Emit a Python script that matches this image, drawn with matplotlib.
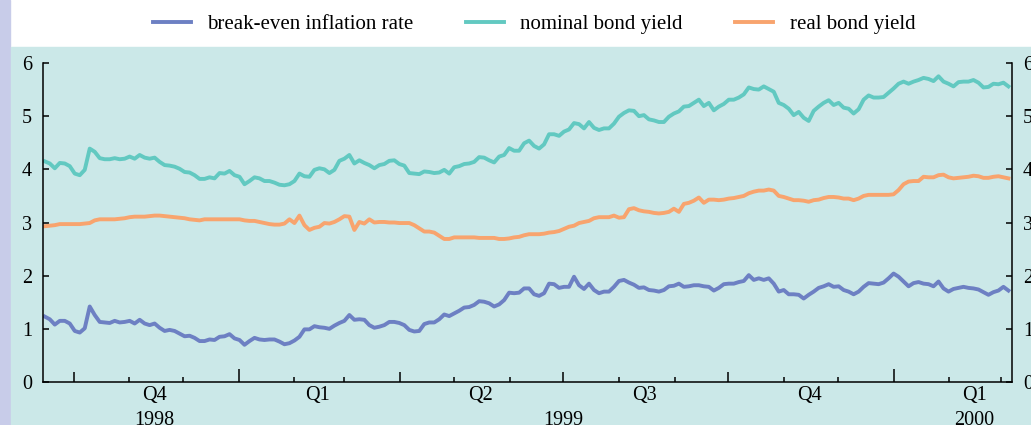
import matplotlib.pyplot as plt
import matplotlib.dates as mdates
from matplotlib.patches import Rectangle
import pandas as pd

plt.rcParams['font.family'] = ['Liberation Serif', 'DejaVu Serif']

# series, every 2.8 days from mid Sep 1998 to early Mar 2000
start, end = '1998-09-15', '2000-03-05'

nominal = [4.15, 4.11, 4.02, 4.12, 4.11, 4.06, 3.92, 3.89, 3.99, 4.39, 4.33, 4.21, 4.19, 4.19, 4.21, 4.19, 4.20,
           4.24, 4.20, 4.27, 4.22, 4.20, 4.22, 4.14, 4.08, 4.07, 4.05, 4.01, 3.95, 3.94, 3.89, 3.82, 3.82, 3.85,
           3.83, 3.93, 3.92, 3.97, 3.89, 3.86, 3.72, 3.78, 3.85, 3.83, 3.78, 3.78, 3.75, 3.71, 3.70, 3.72, 3.78,
           3.92, 3.87, 3.86, 3.99, 4.02, 4.00, 3.93, 3.99, 4.16, 4.20, 4.27, 4.11, 4.17, 4.12, 4.08,
           4.02, 4.08, 4.10, 4.16, 4.17, 4.10, 4.07, 3.93, 3.92, 3.91, 3.96, 3.95, 3.93, 3.94, 3.99, 3.92, 4.04,
           4.06, 4.10, 4.11, 4.14, 4.23, 4.22, 4.17, 4.13, 4.24, 4.27, 4.40, 4.35, 4.35, 4.49, 4.54,
           4.44, 4.39, 4.47, 4.66, 4.66, 4.63, 4.71, 4.75, 4.87, 4.85, 4.77, 4.89, 4.78, 4.74, 4.77, 4.77, 4.86,
           4.99, 5.06, 5.11, 5.10, 5.00, 5.02, 4.94, 4.92, 4.89, 4.89, 4.99, 5.05, 5.09, 5.18, 5.19,
           5.25, 5.31, 5.19, 5.25, 5.11, 5.18, 5.23, 5.31, 5.31, 5.35, 5.41, 5.54, 5.51, 5.50, 5.56, 5.51, 5.46,
           5.25, 5.21, 5.14, 5.02, 5.08, 4.97, 4.91, 5.10, 5.18, 5.25, 5.30, 5.21, 5.25, 5.16, 5.14,
           5.05, 5.13, 5.31, 5.39, 5.35, 5.35, 5.36, 5.44, 5.52, 5.61, 5.65, 5.61, 5.65, 5.68, 5.72, 5.70, 5.66,
           5.75, 5.65, 5.61, 5.56, 5.64, 5.65, 5.65, 5.68, 5.63, 5.54, 5.55, 5.61, 5.60, 5.63, 5.56]

real = [2.93, 2.94, 2.95, 2.97, 2.97, 2.97, 2.97, 2.97, 2.98, 2.99, 3.04, 3.06, 3.06, 3.06, 3.06, 3.07, 3.08,
        3.10, 3.11, 3.11, 3.11, 3.12, 3.13, 3.13, 3.12, 3.11, 3.10, 3.09, 3.08, 3.06, 3.05, 3.04, 3.06, 3.06,
        3.06, 3.06, 3.06, 3.06, 3.06, 3.06, 3.04, 3.03, 3.03, 3.01, 2.99, 2.97, 2.96, 2.96, 2.98, 3.06, 2.99,
        3.13, 2.95, 2.86, 2.90, 2.92, 2.99, 2.98, 3.01, 3.06, 3.12, 3.11, 2.86, 3.01, 2.98, 3.06,
        3.00, 3.01, 3.01, 3.00, 3.00, 2.99, 2.99, 2.99, 2.95, 2.89, 2.83, 2.83, 2.81, 2.75, 2.69, 2.69, 2.72,
        2.72, 2.72, 2.72, 2.72, 2.71, 2.71, 2.71, 2.71, 2.69, 2.69, 2.70, 2.72, 2.73, 2.76, 2.78,
        2.78, 2.78, 2.79, 2.81, 2.82, 2.84, 2.88, 2.92, 2.94, 2.99, 3.01, 3.03, 3.08, 3.10, 3.10, 3.10, 3.13,
        3.09, 3.10, 3.25, 3.27, 3.23, 3.21, 3.20, 3.18, 3.17, 3.18, 3.20, 3.26, 3.20, 3.35, 3.37,
        3.41, 3.47, 3.37, 3.43, 3.43, 3.42, 3.43, 3.45, 3.46, 3.48, 3.50, 3.55, 3.58, 3.60, 3.60, 3.62, 3.60,
        3.50, 3.48, 3.45, 3.42, 3.42, 3.41, 3.39, 3.42, 3.43, 3.46, 3.48, 3.48, 3.47, 3.45, 3.45,
        3.42, 3.45, 3.50, 3.52, 3.52, 3.52, 3.52, 3.52, 3.53, 3.61, 3.72, 3.77, 3.78, 3.78, 3.86, 3.85, 3.85,
        3.89, 3.90, 3.85, 3.83, 3.84, 3.85, 3.86, 3.88, 3.87, 3.84, 3.84, 3.86, 3.87, 3.85, 3.83]

breakeven = [1.23, 1.18, 1.08, 1.15, 1.15, 1.10, 0.96, 0.93, 1.01, 1.42, 1.26, 1.13, 1.12, 1.11, 1.15, 1.12,
             1.13, 1.15, 1.10, 1.17, 1.10, 1.07, 1.10, 1.02, 0.96, 0.98, 0.96, 0.91, 0.86, 0.87, 0.83, 0.77,
             0.77, 0.80,
             0.79, 0.85, 0.86, 0.90, 0.82, 0.79, 0.70, 0.77, 0.83, 0.80, 0.79, 0.80, 0.80, 0.76, 0.71, 0.73,
             0.78, 0.85, 0.99, 0.99, 1.05, 1.03, 1.02, 1.00, 1.06, 1.11, 1.15, 1.26, 1.17, 1.18, 1.17, 1.07,
             1.02, 1.04, 1.07, 1.13, 1.13, 1.11, 1.07, 0.98, 0.95, 0.96, 1.09, 1.12, 1.12, 1.18, 1.27, 1.24,
             1.29, 1.34, 1.40, 1.41, 1.45, 1.52, 1.51, 1.48, 1.42, 1.46, 1.54, 1.68, 1.67, 1.68, 1.76, 1.76,
             1.65, 1.62, 1.67, 1.85, 1.84, 1.77, 1.79, 1.79, 1.98, 1.82, 1.75, 1.85, 1.73, 1.67, 1.70, 1.70,
             1.79, 1.90, 1.92, 1.87, 1.83, 1.77, 1.78, 1.73, 1.72, 1.70, 1.73, 1.80, 1.81, 1.85, 1.79, 1.80,
             1.82, 1.82, 1.80, 1.79, 1.72, 1.77, 1.84, 1.85, 1.85, 1.88, 1.90, 2.01, 1.92, 1.95, 1.92, 1.95,
             1.85, 1.70, 1.73, 1.65, 1.65, 1.64, 1.57, 1.64, 1.70, 1.77, 1.80, 1.84, 1.79, 1.80, 1.73, 1.70,
             1.65, 1.70, 1.79, 1.86, 1.85, 1.84, 1.87, 1.95, 2.04, 1.98, 1.89, 1.80, 1.86, 1.88, 1.85, 1.84,
             1.80, 1.89, 1.76, 1.70, 1.75, 1.77, 1.79, 1.77, 1.76, 1.74, 1.69, 1.64, 1.69, 1.72, 1.79, 1.72]

quarters = ['Q4', 'Q1', 'Q2', 'Q3', 'Q4', 'Q1']
quarter_mid = ['1998-11-15', '1999-02-14', '1999-05-16', '1999-08-15', '1999-11-15', '2000-02-15']
years = ['1998', '1999', '2000']
year_mid = ['1998-11-15', '1999-07-01', '2000-02-15']

dates = pd.date_range(start, end, periods=len(nominal))

fig = plt.figure(figsize=(10.31, 4.25), dpi=100)
fig.patches.append(Rectangle((0, 0), 10 / 1031, 1, transform=fig.transFigure,
                             color='#c8cce9', zorder=-2))
fig.patches.append(Rectangle((11 / 1031, 0), 1, 1 - 47 / 425, transform=fig.transFigure,
                             color='#cbe8e8', zorder=-2))

ax = fig.add_axes([43 / 1031, 1 - 382 / 425, (1012 - 43) / 1031, (382 - 63) / 425])
ax.set_facecolor('none')

ax.plot(dates, breakeven, color='#6d80c3', lw=2.8, label='break-even inflation rate')
ax.plot(dates, nominal, color='#62c9c1', lw=2.8, label='nominal bond yield')
ax.plot(dates, real, color='#f8a46e', lw=2.8, label='real bond yield')

ax.set_xlim(pd.Timestamp('1998-09-14'), pd.Timestamp('2000-03-07'))
ax.set_ylim(0, 6)
ax.set_yticks(range(7))
ax.tick_params(axis='y', direction='in', length=4, width=1.1, left=True, right=True,
               labelleft=True, labelright=True, labelsize=14.5, pad=8)

ax.xaxis.set_major_locator(mdates.MonthLocator(bymonth=[1, 4, 7, 10]))
ax.xaxis.set_minor_locator(mdates.MonthLocator())
ax.xaxis.set_major_formatter(plt.NullFormatter())
ax.tick_params(axis='x', which='major', direction='in', length=7, width=1.1)
ax.tick_params(axis='x', which='minor', direction='in', length=3.3, width=1.1)

for s in ['left', 'bottom', 'right']:
    ax.spines[s].set_linewidth(1.1)
ax.spines['top'].set_visible(False)

fig.canvas.draw()
for t, loc in zip(ax.xaxis.get_major_ticks(), ax.get_xticks()):
    if mdates.num2date(loc).month == 1:
        t.tick1line.set_markersize(9.5)

for q, d in zip(quarters, quarter_mid):
    ax.text(pd.Timestamp(d), -0.014, q, transform=ax.get_xaxis_transform(),
            ha='center', va='top', fontsize=14.5)
for y, d in zip(years, year_mid):
    ax.text(pd.Timestamp(d), -0.09, y, transform=ax.get_xaxis_transform(),
            ha='center', va='top', fontsize=14.5)

fig.legend(loc='center', bbox_to_anchor=(534 / 1031, 1 - 24 / 425), ncol=3, frameon=False,
           fontsize=15, handlelength=1.85, handletextpad=0.77, columnspacing=2.5)

fig.savefig('out.png', dpi=100)
